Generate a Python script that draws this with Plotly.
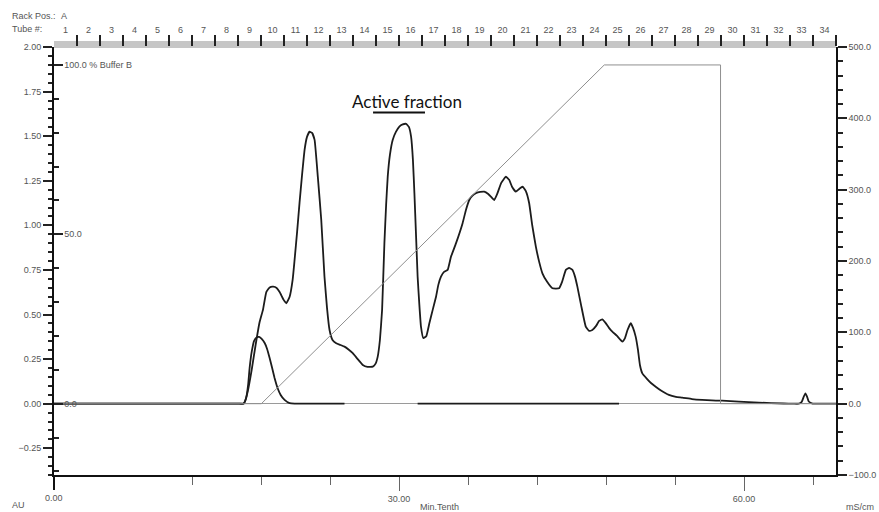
import plotly.graph_objects as go

# Chromatogram: UV absorbance (AU), second UV trace, % Buffer B gradient
time_main = [0.00, 15.50, 16.00, 16.41, 16.58, 16.84, 17.19, 17.53, 17.88, 18.17, 18.46, 18.75, 19.06, 19.36, 19.62,
             19.97, 20.20, 20.49, 20.75, 20.92, 21.14, 21.35, 21.57, 21.79, 22.00, 22.22, 22.44, 22.66,
             22.94, 23.24, 23.52, 23.74, 23.96, 24.22, 24.54, 24.91, 25.26, 25.61, 25.98, 26.39, 26.85,
             27.26, 27.72, 27.95, 28.15, 28.34, 28.53, 28.73, 28.88, 29.02, 29.21, 29.45, 29.73, 30.03,
             30.32, 30.62, 30.86, 31.05, 31.21, 31.34, 31.48, 31.62, 31.77, 31.91, 32.12, 32.38, 32.64,
             32.93, 33.22, 33.42, 33.65, 33.94, 34.23, 34.52, 34.96, 35.53, 35.82, 36.11, 36.37, 36.69,
             37.07, 37.41, 37.76, 38.02, 38.28, 38.54, 38.89, 39.30, 39.58, 39.84, 40.16, 40.45, 40.74,
             41.02, 41.32, 41.58, 41.90, 42.19, 42.47, 42.88, 43.34, 43.92, 44.18, 44.51, 44.79, 45.08,
             45.31, 45.51, 45.83, 46.24, 46.53, 46.81, 47.14, 47.40, 47.68, 47.96, 48.26, 48.55, 48.96,
             49.42, 49.65, 49.87, 50.15, 50.35, 50.58, 50.78, 50.95, 51.16, 51.56, 51.91, 52.32, 52.78,
             53.47, 54.08, 54.63, 55.47, 56.36, 57.20, 58.10, 59.55, 61.28, 63.45, 64.30, 64.76, 65.02, 65.19,
             65.34, 65.49, 65.63, 65.97, 66.40, 68.00]
au_main = [0.000, 0.000, 0.000, 0.000, 0.010, 0.066, 0.189, 0.329, 0.458, 0.526, 0.626, 0.652, 0.656, 0.649, 0.626,
           0.582, 0.563, 0.600, 0.694, 0.806, 0.963, 1.126, 1.283, 1.423, 1.496, 1.525, 1.518, 1.479,
           1.273, 1.030, 0.712, 0.537, 0.413, 0.357, 0.339, 0.329, 0.320, 0.304, 0.283, 0.251, 0.217,
           0.206, 0.208, 0.223, 0.264, 0.357, 0.526, 0.900, 1.114, 1.273, 1.395, 1.479, 1.524, 1.554,
           1.566, 1.569, 1.552, 1.497, 1.367, 1.180, 0.946, 0.712, 0.554, 0.432, 0.367, 0.380, 0.451,
           0.526, 0.600, 0.666, 0.712, 0.740, 0.750, 0.824, 0.900, 1.012, 1.086, 1.142, 1.165, 1.180,
           1.187, 1.189, 1.176, 1.159, 1.142, 1.176, 1.238, 1.273, 1.255, 1.215, 1.189, 1.204, 1.217,
           1.193, 1.124, 1.002, 0.881, 0.795, 0.731, 0.683, 0.647, 0.647, 0.683, 0.750, 0.761, 0.750,
           0.711, 0.656, 0.554, 0.432, 0.408, 0.413, 0.436, 0.464, 0.473, 0.453, 0.425, 0.404, 0.380,
           0.348, 0.368, 0.413, 0.451, 0.425, 0.376, 0.301, 0.217, 0.170, 0.139, 0.116, 0.095, 0.074,
           0.049, 0.038, 0.034, 0.026, 0.021, 0.018, 0.017, 0.011, 0.006, 0.001, 0.000, 0.000, 0.010, 0.038,
           0.058, 0.038, 0.012, 0.000, 0.000, 0.000]

time_second = [0.00, 15.50, 16.10, 16.49, 16.71, 16.88, 17.01, 17.19, 17.40, 17.62, 17.84, 18.06, 18.32, 18.53, 18.75,
               18.97, 19.18, 19.44, 19.71, 20.05, 20.49, 20.92, 21.50, 25.26, None, 31.62, 49.13]
au_second = [0.000, 0.000, 0.000, 0.000, 0.032, 0.105, 0.200, 0.290, 0.352, 0.371, 0.374, 0.363, 0.340, 0.307, 0.256,
             0.200, 0.144, 0.088, 0.049, 0.021, 0.003, 0.000, 0.000, 0.000, None, 0.000, 0.000]

time_gradient = [0.00, 18.03, 47.85, 57.96, 57.96, 68.00]
pct_buffer_b = [0.0, 0.0, 100.0, 100.0, 0.0, 0.0]

time_ticks = [0, 30, 60]
time_tick_text = ["0.00", "30.00", "60.00"]

tube_numbers = list(range(1, 35))
tube_centres = [2 * n - 1 for n in tube_numbers]
tube_edges = [2 * n for n in range(1, 35)]

TIME_RANGE = [0, 68]
LABEL_FONT = dict(family="Liberation Sans Narrow, Liberation Sans, Arial", size=9, color="#555555")
TICK_COLOR = "#222222"
TRACE_LINE = dict(color="#1c1c1c", width=1.8, shape="spline", smoothing=0.35)

fig = go.Figure()

fig.add_trace(go.Scatter(x=time_gradient, y=pct_buffer_b, mode="lines", yaxis="y3",
                         line=dict(color="#8f8f8f", width=1), hoverinfo="skip", showlegend=False))
fig.add_trace(go.Scatter(x=time_second, y=au_second, mode="lines", connectgaps=False,
                         line=TRACE_LINE, showlegend=False))
fig.add_trace(go.Scatter(x=time_main, y=au_main, mode="lines", line=TRACE_LINE, showlegend=False))

# empty traces so the conductivity axis and the fraction (tube) axes get drawn
for xa, ya in (("x", "y2"), ("x2", "y"), ("x3", "y")):
    fig.add_trace(go.Scatter(x=[None], y=[None], xaxis=xa, yaxis=ya, mode="lines",
                             hoverinfo="skip", showlegend=False))

# the corner label at t = 0 is suppressed by plotly next to the inside %B labels,
# so it is written as an annotation under its tick
annotations = [
    dict(text=time_tick_text[0], xref="x", yref="paper", x=time_ticks[0], y=-0.0537,
         xanchor="center", yanchor="middle", showarrow=False, font=LABEL_FONT),
    dict(text="Rack Pos.:", xref="paper", yref="paper", x=-0.0563, y=1.0724,
         xanchor="left", yanchor="middle", showarrow=False, font=LABEL_FONT),
    dict(text="A", xref="paper", yref="paper", x=0.0128, y=1.0724,
         xanchor="center", yanchor="middle", showarrow=False, font=LABEL_FONT),
    dict(text="Tube #:", xref="paper", yref="paper", x=-0.0563, y=1.042,
         xanchor="left", yanchor="middle", showarrow=False, font=LABEL_FONT),
    dict(text="AU", xref="paper", yref="paper", x=-0.046, y=-0.070,
         xanchor="center", yanchor="middle", showarrow=False, font=LABEL_FONT),
    dict(text="Min.Tenth", xref="paper", yref="paper", x=0.4936, y=-0.0748,
         xanchor="center", yanchor="middle", showarrow=False, font=LABEL_FONT),
    dict(text="mS/cm", xref="paper", yref="paper", x=1.0307, y=-0.0748,
         xanchor="center", yanchor="middle", showarrow=False, font=LABEL_FONT),
    dict(text="Active fraction", xref="paper", yref="paper", x=0.4514, y=0.8715,
         xanchor="center", yanchor="middle", showarrow=False,
         font=dict(family="Lato, Open Sans, sans-serif", size=17, color="#111111")),
]

fig.update_layout(
    width=879, height=512,
    margin=dict(l=54, r=43, t=47, b=37, autoexpand=False),
    paper_bgcolor="white", plot_bgcolor="white",
    font=LABEL_FONT,
    xaxis=dict(
        range=TIME_RANGE, showgrid=False, zeroline=False,
        showline=True, linecolor="#111111", linewidth=2,
        tickvals=time_ticks, ticktext=[""] + time_tick_text[1:],
        ticks="outside", ticklen=14, tickwidth=1, tickcolor="#666666",
        minor=dict(tick0=0, dtick=6, ticks="outside", ticklen=8, tickcolor="#666666", tickwidth=1),
        tickfont=LABEL_FONT,
    ),
    xaxis2=dict(
        overlaying="x", side="top", anchor="y", range=TIME_RANGE,
        showgrid=False, zeroline=False, showline=False,
        tickvals=tube_edges, ticks="outside", ticklen=11, tickwidth=2, tickcolor=TICK_COLOR,
        showticklabels=False,
    ),
    xaxis3=dict(
        overlaying="x", side="top", anchor="y", range=TIME_RANGE,
        showgrid=False, zeroline=False, showline=False,
        tickvals=tube_centres, ticktext=[str(n) for n in tube_numbers],
        ticks="outside", ticklen=9, tickcolor="rgba(0,0,0,0)", tickfont=LABEL_FONT,
    ),
    yaxis=dict(
        range=[-0.40, 2.00], showgrid=False,
        zeroline=True, zerolinecolor="#9a9a9a", zerolinewidth=1,
        showline=True, linecolor="#111111", linewidth=2,
        tickmode="linear", tick0=0, dtick=0.25, tickformat=".2f",
        ticks="outside", ticklen=9, tickwidth=1.5, tickcolor=TICK_COLOR,
        minor=dict(dtick=0.05, ticks="outside", ticklen=4, tickwidth=1.5, tickcolor=TICK_COLOR),
        tickfont=LABEL_FONT,
    ),
    yaxis2=dict(
        overlaying="y", side="right", anchor="x", range=[-100, 500],
        showgrid=False, zeroline=False,
        showline=True, linecolor="#111111", linewidth=1.5,
        tickmode="linear", tick0=0, dtick=100, tickformat=".1f",
        ticks="outside", ticklen=9, tickwidth=1.5, tickcolor=TICK_COLOR,
        minor=dict(dtick=20, ticks="outside", ticklen=5, tickwidth=1.5, tickcolor=TICK_COLOR),
        tickfont=LABEL_FONT,
    ),
    yaxis3=dict(
        overlaying="y", side="left", anchor="x", range=[-21.05, 105.3],
        showgrid=False, zeroline=False, showline=False,
        tickvals=[0, 50, 100], ticktext=["0.0", "50.0", "100.0 % Buffer B"],
        ticks="inside", ticklen=9, tickwidth=1.5, tickcolor=TICK_COLOR,
        ticklabelposition="inside",
        minor=dict(tick0=0, dtick=10, ticks="inside", ticklen=5, tickwidth=1.5, tickcolor=TICK_COLOR),
        tickfont=LABEL_FONT,
    ),
    shapes=[
        # grey fraction-collector band along the top edge
        dict(type="rect", xref="paper", yref="paper", x0=0, x1=1, y0=0.9977, y1=1.014,
             fillcolor="#c6c6c6", line=dict(width=0), layer="below"),
        # left axis line continued down as the t = 0 tick
        dict(type="line", xref="paper", yref="paper", x0=0, x1=0, y0=0, y1=-0.035,
             line=dict(color="#111111", width=2)),
        # underline below the annotation
        dict(type="line", xref="paper", yref="paper", x0=0.408, x1=0.4744, y0=0.847, y1=0.847,
             line=dict(color="#111111", width=2)),
    ],
    annotations=annotations,
)

fig.write_html("out.html")
